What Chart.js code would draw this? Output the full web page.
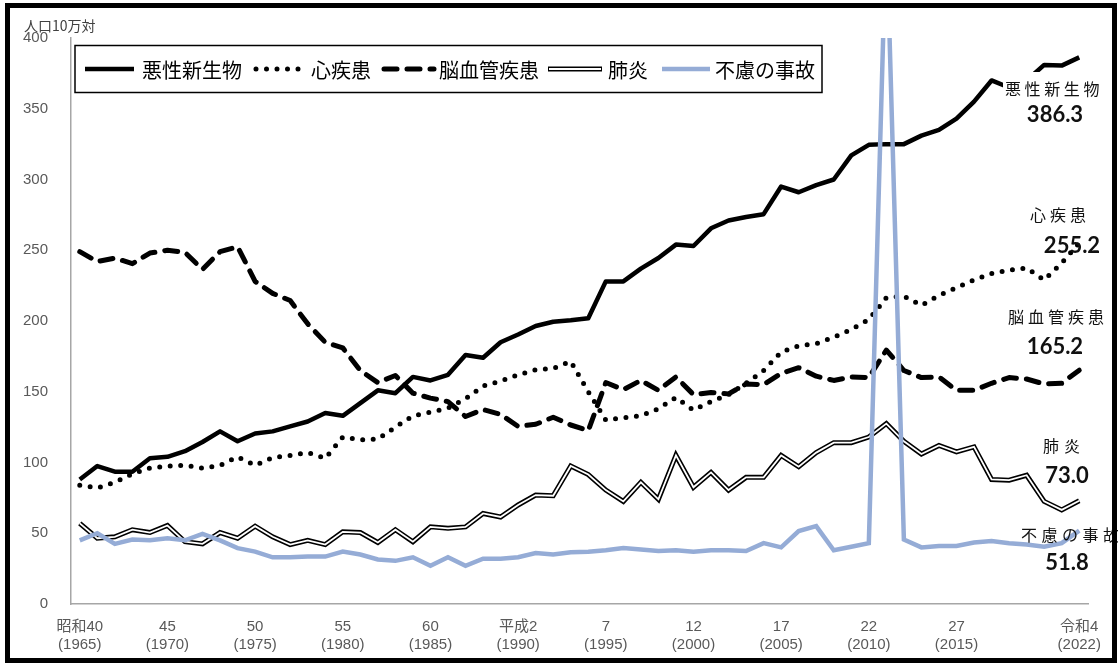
<!DOCTYPE html>
<html>
<head>
<meta charset="utf-8">
<title>主な死因別にみた死亡率の年次推移</title>
<script src="https://cdn.jsdelivr.net/npm/chart.js@4.4.1/dist/chart.umd.min.js"></script>
<style>
  body { margin: 0; background: #fff; }
  #wrap { width: 1118px; height: 664px; position: relative; }
</style>
</head>
<body>
<div id="wrap"><canvas id="myChart"></canvas></div>
<script>
// years 昭和40 (1965) .. 令和4 (2022)
var years = [1965,1966,1967,1968,1969,1970,1971,1972,1973,1974,
             1975,1976,1977,1978,1979,1980,1981,1982,1983,1984,
             1985,1986,1987,1988,1989,1990,1991,1992,1993,1994,
             1995,1996,1997,1998,1999,2000,2001,2002,2003,2004,
             2005,2006,2007,2008,2009,2010,2011,2012,2013,2014,
             2015,2016,2017,2018,2019,2020,2021,2022];

var tickYears = [1965, 1970, 1975, 1980, 1985, 1990, 1995, 2000, 2005, 2010, 2015, 2022];
var tickEra   = ['昭和40', '45', '50', '55', '60', '平成2', '7', '12', '17', '22', '27', '令和4'];

var cancer = [88,97.5,93.5,93.5,103,104,108,114.5,122,115,
              120.5,122,125.5,129,135,133,142,151,149,160.5,
              158,162,176,174,185,190.5,196.5,199.5,200.5,202,
              228,228,237,244.5,254,253,265.5,271,273.5,275.5,
              295,291,296,300,317,324.5,325,325,331,335,
              343,355,370,365,370,381,380.5,386.3];

var heart = [84,82,86,92,96,97.5,98,96,98,104,
             98,103.5,105,107,103,118,116,116.5,125,133,
             135.5,138.5,145,154,157.5,162,165.5,166.5,171.5,150,
             130,131.5,133,138,146,137,143,148,156,165,
             178,182.5,184,188.5,194,201,216.5,217.5,211,218,
             223.5,229,233.5,236,237.5,229,241,255.2];

var cerebro = [249,242,244.5,240.5,248,250,248.5,236.5,249,252.5,
               228,219.5,214.5,198,185,181,165,156.5,161.5,149,
               145.5,143,132.5,137.5,134,125.5,127,132,126.5,122.5,
               156.5,151.5,158,151,160.5,148,149.5,148.5,155.5,155,
               163,167,161,158,160.5,160,179.5,165,160,160.5,
               151,151,156,160,159,155.5,156,165.2];

var pneumonia = [57,46.5,47.5,52.5,50.5,55.5,44,42.5,50.5,46.5,
                 55,47.5,42,45,42,51,50.5,43.5,52.5,44,
                 54.5,53.5,54.5,64,61.5,70,77,76.5,97.5,91.5,
                 80.5,72.5,86,74,105,82.5,93,80.5,89.5,89.5,
                 105,97,107,114,114,118,127.5,115,106,112,
                 107.5,111,88,87.5,91,72.5,66.5,73.0];

var accident = [45,50,42.5,45.5,45,46.5,45,49.5,45,39.5,
                37,33,33,33.5,33.5,37,35,31.5,30.5,33,
                27,33,27,32,32,33,36,35,36.5,37,
                38,39.5,38.5,37.5,38,37,38,38,37.5,43,
                40,51.5,55,38,40.5,43,480,45.5,40,41,
                41,43.5,44.5,43,42,40.5,43,51.8];

var tickColor = '#595959';
var jpFont = "'Noto Sans CJK JP', sans-serif";

// legend + end labels + frame, drawn on top of the plot
var decorations = {
  id: 'decorations',
  afterDraw: function (chart) {
    var ctx = chart.ctx;
    var ds = chart.data.datasets;
    ctx.save();

    // white box behind the 悪性新生物 label (hides the line there)
    ctx.fillStyle = '#fff';
    ctx.fillRect(1003, 72, 105, 30);

    function spaced(text, x, y, step) {
      for (var i = 0; i < text.length; i++) ctx.fillText(text[i], x + i * step, y);
    }
    ctx.fillStyle = '#111';
    ctx.textBaseline = 'middle';
    ctx.textAlign = 'left';
    ctx.font = '16px ' + jpFont;
    spaced('悪性新生物', 1005, 89, 19.6);
    spaced('心疾患', 1030, 215, 20);
    spaced('脳血管疾患', 1008, 317, 20);
    spaced('肺炎', 1043, 446, 21);
    spaced('不慮の事故', 1021, 535, 20.5);

    ctx.font = "bold 22px Lato, 'Open Sans', sans-serif";
    ctx.textAlign = 'center';
    ctx.fillText(cancer[cancer.length - 1].toFixed(1), 1055, 115);
    ctx.fillText(heart[heart.length - 1].toFixed(1), 1072, 246);
    ctx.fillText(cerebro[cerebro.length - 1].toFixed(1), 1055, 347);
    ctx.fillText(pneumonia[pneumonia.length - 1].toFixed(1), 1067, 476);
    ctx.fillText(accident[accident.length - 1].toFixed(1), 1067, 563);

    // axis unit
    ctx.textAlign = 'left';
    ctx.fillStyle = '#404040';
    ctx.font = '14px ' + jpFont;
    ctx.fillText('人口10万対', 24, 26);

    // legend
    ctx.fillStyle = '#fff';
    ctx.fillRect(75, 45.5, 747, 47);
    ctx.strokeStyle = '#000';
    ctx.lineWidth = 1.5;
    ctx.setLineDash([]);
    ctx.strokeRect(75, 45.5, 747, 47);

    var items = [
      { d: ds[0], x0: 85, x1: 134, tx: 142 },
      { d: ds[1], x0: 256, x1: 302, tx: 311 },
      { d: ds[2], x0: 384, x1: 434, tx: 439 },
      { d: ds[3], inner: ds[4], x0: 548, x1: 602, tx: 608 },
      { d: ds[5], x0: 662, x1: 710, tx: 715 }
    ];
    var ly = 69;
    items.forEach(function (it) {
      var d = it.d;
      ctx.beginPath();
      ctx.strokeStyle = d.borderColor;
      ctx.lineWidth = d.borderWidth;
      ctx.lineCap = d.borderCapStyle || 'butt';
      ctx.setLineDash(d.borderDash || []);
      ctx.moveTo(it.x0, ly);
      ctx.lineTo(it.x1, ly);
      ctx.stroke();
      if (it.inner) {
        ctx.beginPath();
        ctx.strokeStyle = it.inner.borderColor;
        ctx.lineWidth = it.inner.borderWidth;
        ctx.setLineDash([]);
        ctx.moveTo(it.x0 + 1, ly);
        ctx.lineTo(it.x1 - 1, ly);
        ctx.stroke();
      }
      ctx.setLineDash([]);
      ctx.lineCap = 'butt';
      ctx.fillStyle = '#000';
      ctx.font = '20px ' + jpFont;
      ctx.textBaseline = 'middle';
      ctx.fillText(d.label, it.tx, ly + 1);
    });

    // outer frame
    ctx.strokeStyle = '#000';
    ctx.lineWidth = 5;
    ctx.strokeRect(7.5, 5.5, 1107, 655);
    ctx.restore();
  }
};

var ctx = document.getElementById('myChart').getContext('2d');
var chart = new Chart(ctx, {
  type: 'line',
  data: {
    labels: years,
    datasets: [
      { label: '悪性新生物', data: cancer, borderColor: '#000', borderWidth: 4.5,
        borderJoinStyle: 'round', order: 2 },
      { label: '心疾患', data: heart, borderColor: '#000', borderWidth: 5,
        borderDash: [0, 10.5], borderCapStyle: 'round', borderJoinStyle: 'round', order: 3 },
      { label: '脳血管疾患', data: cerebro, borderColor: '#000', borderWidth: 5,
        borderDash: [13, 10], borderCapStyle: 'round', borderJoinStyle: 'round', order: 4 },
      { label: '肺炎', data: pneumonia, borderColor: '#000', borderWidth: 5, order: 6 },
      { label: '肺炎', data: pneumonia, borderColor: '#fff', borderWidth: 1.8, order: 5 },
      { label: '不慮の事故', data: accident, borderColor: '#95acd6', borderWidth: 4.5, order: 1 }
    ]
  },
  options: {
    responsive: true,
    maintainAspectRatio: false,
    animation: false,
    events: [],
    elements: { point: { radius: 0 }, line: { tension: 0, fill: false } },
    layout: { padding: { top: 38, right: 30, left: 0, bottom: 0 } },
    plugins: { legend: { display: false }, tooltip: { enabled: false } },
    scales: {
      x: {
        offset: true,
        grid: { display: false, drawTicks: false },
        border: { display: true, color: '#a6a6a6', width: 1.5 },
        ticks: {
          autoSkip: false, maxRotation: 0, minRotation: 0, padding: 14,
          color: tickColor,
          font: { family: "'Liberation Sans', 'Noto Sans CJK JP'", size: 15 },
          callback: function (v, i) {
            var k = tickYears.indexOf(years[i]);
            return k < 0 ? '' : [tickEra[k], '(' + years[i] + ')'];
          }
        },
        afterFit: function (s) { s.height = 60; }
      },
      y: {
        min: 0, max: 400,
        grid: { display: false, drawTicks: false },
        border: { display: true, color: '#a6a6a6', width: 1.5 },
        ticks: {
          stepSize: 50, padding: 23, color: tickColor,
          font: { family: "'Liberation Sans'", size: 15 }
        },
        afterFit: function (s) { s.width = 71; }
      }
    }
  },
  plugins: [decorations]
});
</script>
</body>
</html>
